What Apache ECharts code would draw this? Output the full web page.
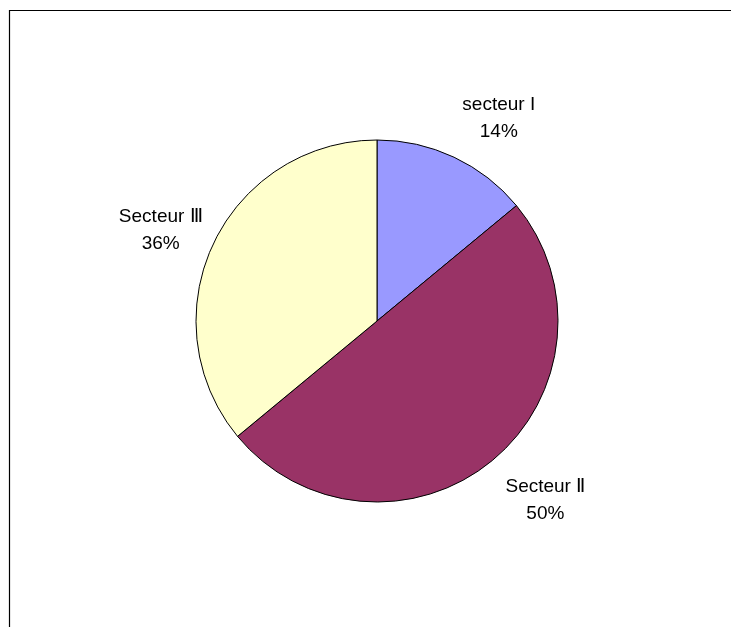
<!DOCTYPE html>
<html>
<head>
<meta charset="utf-8">
<script src="https://cdn.jsdelivr.net/npm/echarts@6/dist/echarts.min.js"></script>
<style>
  html, body { margin: 0; padding: 0; background: #fff; }
  #chart { width: 731px; height: 627px; }
</style>
</head>
<body>
<div id="chart"></div>
<script>
// Répartition par secteur d'activité
const sectorNames = ['secteur I', 'Secteur Ⅱ', 'Secteur Ⅲ'];
const sectorValues = [14, 50, 36];
const sectorColors = ['#9999FF', '#993366', '#FFFFCC'];

// small shifts applied to each label after placement on the label ring
const labelShiftX = [20, 16, 0];
const labelShiftY = [14, -5, 11];

const pieCenter = [377, 321];
const pieRadius = 181;

const pieData = sectorNames.map((name, i) => ({
  name: name,
  value: sectorValues[i],
  itemStyle: { color: sectorColors[i] }
}));

const chart = echarts.init(document.getElementById('chart'), null, { renderer: 'canvas' });

chart.setOption({
  animation: false,
  backgroundColor: '#ffffff',
  graphic: [{
    type: 'rect',
    shape: { x: 9.5, y: 10.5, width: 760, height: 700 },
    style: { fill: 'none', stroke: '#000000', lineWidth: 1.2 },
    silent: true
  }],
  series: [
    {
      type: 'pie',
      center: pieCenter,
      radius: pieRadius,
      startAngle: 90,
      clockwise: true,
      silent: true,
      data: pieData,
      itemStyle: { borderColor: '#000000', borderWidth: 1 },
      label: { show: false },
      labelLine: { show: false }
    },
    {
      // transparent ring carrying the category labels outside the pie
      type: 'pie',
      center: pieCenter,
      radius: [226, 246],
      startAngle: 90,
      clockwise: true,
      silent: true,
      data: sectorNames.map((name, i) => ({ name: name, value: sectorValues[i] })),
      itemStyle: { color: 'rgba(0,0,0,0)', borderWidth: 0 },
      label: {
        show: true,
        position: 'inside',
        formatter: '{b}\n{d}%',
        color: '#000000',
        fontFamily: '"Liberation Sans", Arial, sans-serif',
        fontSize: 19,
        lineHeight: 27,
        align: 'center'
      },
      labelLine: { show: false },
      labelLayout: function (params) {
        return { dx: labelShiftX[params.dataIndex], dy: labelShiftY[params.dataIndex] };
      }
    }
  ]
});
</script>
</body>
</html>
